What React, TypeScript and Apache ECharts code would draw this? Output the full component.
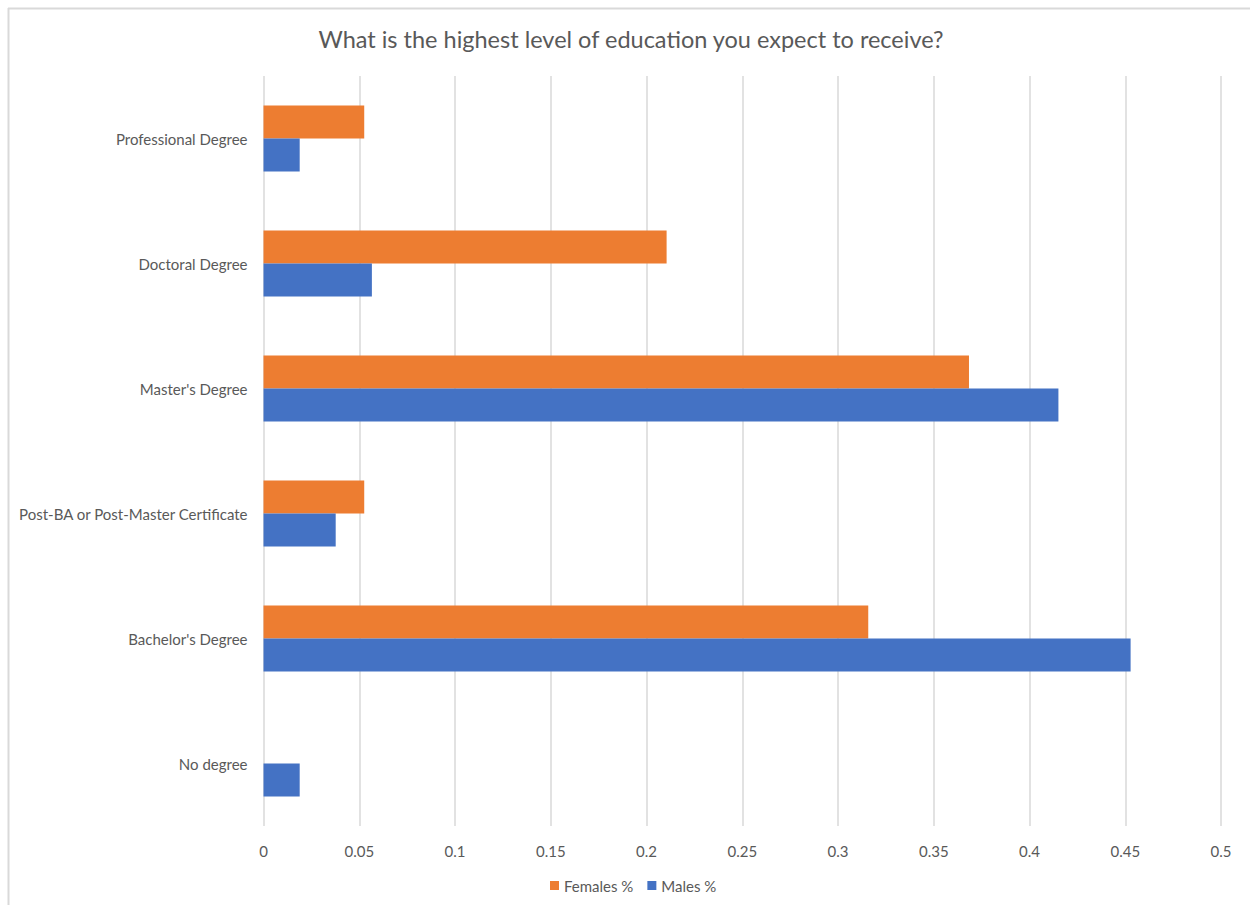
import React, { useEffect, useRef } from "react";
import * as echarts from "echarts";

const categories = [
  "No degree",
  "Bachelor's Degree",
  "Post-BA or Post-Master Certificate",
  "Master's Degree",
  "Doctoral Degree",
  "Professional Degree",
];
const femalesPct = [0, 0.3158, 0.0526, 0.3684, 0.2105, 0.0526];
const malesPct = [0.0189, 0.4528, 0.0377, 0.4151, 0.0566, 0.0189];
const xTicks = [0, 0.05, 0.1, 0.15, 0.2, 0.25, 0.3, 0.35, 0.4, 0.45, 0.5];

const FONT = "Lato, 'Open Sans', sans-serif";
const TXT = "#595959";

export default function App() {
  const ref = useRef<HTMLDivElement>(null);
  useEffect(() => {
    if (!ref.current) return;
    const chart = echarts.init(ref.current, null, { renderer: "svg" });
    chart.setOption({
      animation: false,
      backgroundColor: "#ffffff",
      title: {
        text: "What is the highest level of education you expect to receive?",
        left: 626,
        top: 22,
        textAlign: "center",
        textStyle: { fontFamily: FONT, fontSize: 23.5, fontWeight: "normal", color: TXT },
      },
      graphic: [
        { type: "line", shape: { x1: 8, y1: 8.5, x2: 1250, y2: 8.5 }, style: { stroke: "#d9d9d9", lineWidth: 2 } },
        { type: "line", shape: { x1: 8.5, y1: 8, x2: 8.5, y2: 905 }, style: { stroke: "#d9d9d9", lineWidth: 2 } },
      ],
      legend: {
        data: ["Females %", "Males %"],
        left: 545,
        top: 873,
        itemWidth: 9,
        itemHeight: 9,
        itemGap: 14,
        icon: "rect",
        textStyle: { fontFamily: FONT, fontSize: 15, color: TXT },
      },
      grid: { left: 263.5, right: 29, top: 76, bottom: 79 },
      xAxis: {
        type: "value",
        min: 0,
        max: 0.5,
        interval: 0.05,
        axisLine: { show: false },
        axisTick: { show: false },
        splitLine: { show: true, lineStyle: { color: "#d9d9d9", width: 1.5 } },
        axisLabel: {
          fontFamily: FONT,
          fontSize: 15,
          color: TXT,
          margin: 17,
          formatter: (v: number) => {
            const t = xTicks.find((x) => Math.abs(x - v) < 1e-9);
            return String(t !== undefined ? t : Number(v.toFixed(2)));
          },
        },
      },
      yAxis: {
        type: "category",
        data: categories,
        axisLine: { show: false },
        axisTick: { show: false },
        axisLabel: { fontFamily: FONT, fontSize: 15, color: TXT, margin: 16 },
      },
      series: [
        {
          name: "Females %",
          type: "bar",
          data: femalesPct,
          barWidth: 33,
          barGap: "0%",
          itemStyle: { color: "#ED7D31" },
        },
        {
          name: "Males %",
          type: "bar",
          data: malesPct,
          barWidth: 33,
          barGap: "0%",
          itemStyle: { color: "#4472C4" },
        },
      ],
    });
    return () => chart.dispose();
  }, []);
  return (
    <div
      ref={ref}
      style={{ position: "absolute", left: 0, top: 0, width: 1250, height: 905 }}
    />
  );
}
